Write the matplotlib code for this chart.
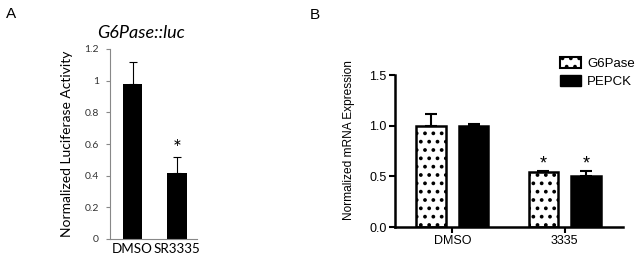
import numpy as np
import matplotlib
matplotlib.use("Agg")
import matplotlib.pyplot as plt
from matplotlib.patches import Patch

# panel A: luciferase reporter
a_labels = ["DMSO", "SR3335"]
a_values = [0.98, 0.42]
a_err = [0.14, 0.10]
a_sig = [False, True]

# panel B: qPCR
b_groups = ["DMSO", "3335"]
b_series = ["G6Pase", "PEPCK"]
b_g6pase = [1.00, 0.54]
b_g6pase_err = [0.12, 0.01]
b_pepck = [1.00, 0.50]
b_pepck_err = [0.02, 0.05]
b_sig = [False, True]

W, H = 637, 258
fig = plt.figure(figsize=(W / 100, H / 100), dpi=100)
plt.rcParams["hatch.linewidth"] = 1.5

# ---------------- panel A ----------------
axA = fig.add_axes([110 / W, 1 - 239 / H, 87 / W, 190 / H])
xa = np.arange(len(a_labels))
axA.bar(xa, a_values, width=0.44, color="black", zorder=2)
axA.errorbar(xa, a_values, yerr=[np.zeros(len(a_err)), a_err], fmt="none",
             ecolor="black", elinewidth=0.8, capsize=3, capthick=0.8, zorder=3)
for i in range(len(xa)):
    if a_sig[i]:
        axA.text(xa[i], a_values[i] + a_err[i] - 0.015, "*", ha="center", va="bottom",
                 fontsize=15, family="Lato")
axA.set_xlim(-0.506, 1.45)
axA.set_ylim(0, 1.2)
axA.set_yticks([0, 0.2, 0.4, 0.6, 0.8, 1, 1.2])
axA.set_yticklabels(["0", "0.2", "0.4", "0.6", "0.8", "1", "1.2"])
axA.set_xticks(xa)
axA.set_xticklabels(a_labels, fontsize=9.6, family="Lato")
axA.tick_params(axis="x", length=0, pad=3)
axA.tick_params(axis="y", length=3, width=0.8, color="#888888", labelsize=7.5, pad=5,
                labelcolor="#333333")
for lab in axA.get_yticklabels():
    lab.set_family("Lato")
for s in ["top", "right"]:
    axA.spines[s].set_visible(False)
for s in ["left", "bottom"]:
    axA.spines[s].set_color("#888888")
    axA.spines[s].set_linewidth(0.8)
axA.set_ylabel("Normalized Luciferase Activity", fontsize=10, family="Lato", labelpad=8)
axA.set_title("G6Pase::luc", fontsize=13, style="italic", family="Lato", pad=8, x=0.36)
fig.text(6 / W, 1 - 14 / H, "A", fontsize=11, family="Liberation Sans", va="center")

# ---------------- panel B ----------------
axB = fig.add_axes([395 / W, 1 - 227 / H, 228 / W, 152 / H])
xb = np.arange(len(b_groups))
off = 0.19
bw = 0.26
axB.bar(xb - off, b_g6pase, width=bw, color="white", edgecolor="black", linewidth=1.8,
        hatch="..", zorder=2)
axB.bar(xb + off, b_pepck, width=bw, color="black", edgecolor="black", linewidth=1.8, zorder=2)
axB.errorbar(xb - off, b_g6pase, yerr=[np.zeros(2), b_g6pase_err], fmt="none",
             ecolor="black", elinewidth=1.5, capsize=4, capthick=1.5, zorder=3)
axB.errorbar(xb + off, b_pepck, yerr=[np.zeros(2), b_pepck_err], fmt="none",
             ecolor="black", elinewidth=1.5, capsize=4, capthick=1.5, zorder=3)
for i in range(len(xb)):
    if b_sig[i]:
        axB.text(xb[i] - off, b_g6pase[i] + b_g6pase_err[i] - 0.01, "*", ha="center",
                 va="bottom", fontsize=13, family="Liberation Sans")
        axB.text(xb[i] + off, b_pepck[i] + b_pepck_err[i] - 0.01, "*", ha="center",
                 va="bottom", fontsize=13, family="Liberation Sans")
axB.set_xlim(-0.509, 1.518)
axB.set_ylim(0, 1.5)
axB.set_yticks([0.0, 0.5, 1.0, 1.5])
axB.set_yticklabels(["0.0", "0.5", "1.0", "1.5"])
axB.set_xticks(xb)
axB.set_xticklabels(b_groups)
axB.tick_params(axis="both", length=4, width=1.5, labelsize=9, pad=2)
for lab in axB.get_xticklabels() + axB.get_yticklabels():
    lab.set_family("Liberation Sans")
for s in ["top", "right"]:
    axB.spines[s].set_visible(False)
for s in ["left", "bottom"]:
    axB.spines[s].set_linewidth(1.8)
axB.set_ylabel("Normalized mRNA Expression", fontsize=8.6, family="Liberation Sans")
axB.yaxis.set_label_coords(-0.175, 0.57)
handles = [Patch(facecolor="white", edgecolor="black", hatch="..", linewidth=1.5, label=b_series[0]),
           Patch(facecolor="black", edgecolor="black", label=b_series[1])]
fig.legend(handles=handles, loc="upper left", bbox_to_anchor=(557 / W, 1 - 54 / H),
           frameon=False, prop={"family": "Liberation Sans", "size": 9.5},
           handlelength=1.6, handleheight=0.9, handletextpad=0.5, labelspacing=0.4,
           borderpad=0.2, borderaxespad=0)
fig.text(310 / W, 1 - 15 / H, "B", fontsize=11, family="Liberation Sans", va="center")

fig.savefig("out.png", dpi=100)
